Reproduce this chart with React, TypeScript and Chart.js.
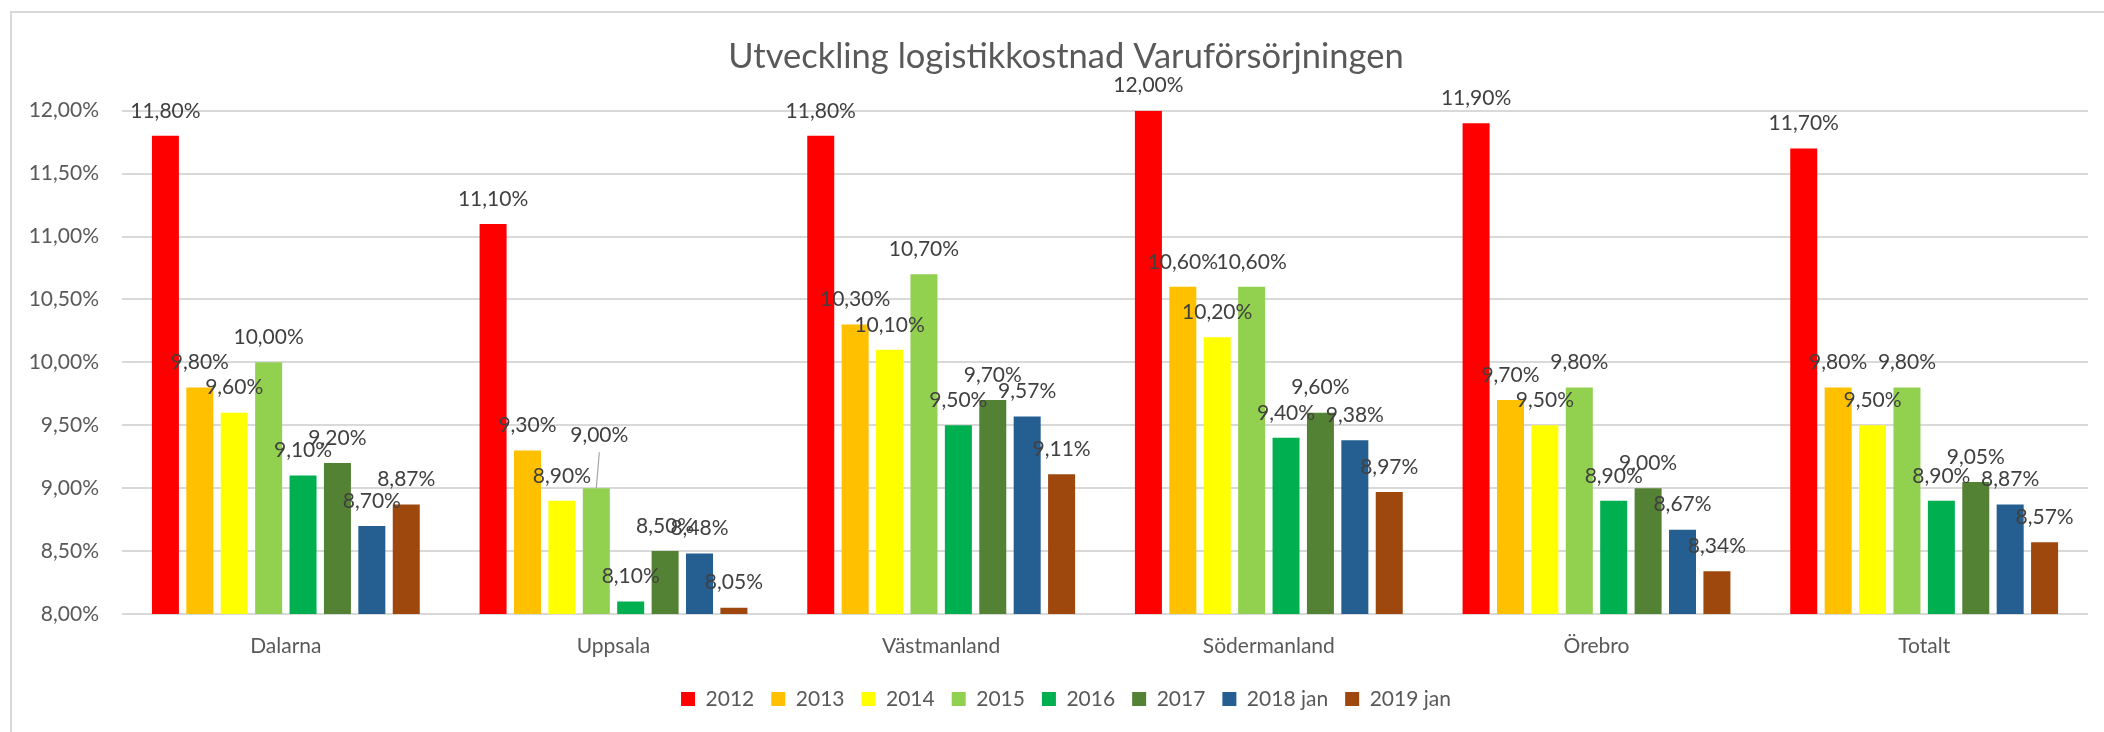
import React, { useEffect, useRef } from 'react';
import { Chart, registerables } from 'chart.js';

Chart.register(...registerables);

// ---- data ----
const TITLE = 'Utveckling logistikkostnad Varuförsörjningen';
const categories = ['Dalarna', 'Uppsala', 'Västmanland', 'Södermanland', 'Örebro', 'Totalt'];
const seriesNames = ['2012', '2013', '2014', '2015', '2016', '2017', '2018 jan', '2019 jan'];
const v2012 = [11.8, 11.1, 11.8, 12.0, 11.9, 11.7];
const v2013 = [9.8, 9.3, 10.3, 10.6, 9.7, 9.8];
const v2014 = [9.6, 8.9, 10.1, 10.2, 9.5, 9.5];
const v2015 = [10.0, 9.0, 10.7, 10.6, 9.8, 9.8];
const v2016 = [9.1, 8.1, 9.5, 9.4, 8.9, 8.9];
const v2017 = [9.2, 8.5, 9.7, 9.6, 9.0, 9.05];
const v2018jan = [8.7, 8.48, 9.57, 9.38, 8.67, 8.87];
const v2019jan = [8.87, 8.05, 9.11, 8.97, 8.34, 8.57];
const seriesValues = [v2012, v2013, v2014, v2015, v2016, v2017, v2018jan, v2019jan];
const yMin = 8;
const yMax = 12;
const yStep = 0.5;

// ---- styles ----
const seriesColors = ['#FF0000', '#FFC000', '#FFFF00', '#92D050', '#00B050', '#548235', '#255E91', '#9E480E'];
const FONT = 'Lato, "Open Sans", sans-serif';
const AXIS_COLOR = '#595959';
const LABEL_COLOR = '#404040';
const GRID_COLOR = '#d9d9d9';
const LABEL_GAP = 25;
// manually moved data label (with leader line) in the original
const LABEL_NUDGES = [{ series: 3, category: 1, dx: 3, dy: -28 }];

const fmtPct = (v: number) => v.toFixed(2).replace('.', ',') + '%';

const valueLabelPlugin = {
  id: 'valueLabels',
  afterDatasetsDraw(chart: any) {
    const ctx = chart.ctx;
    ctx.save();
    ctx.font = `21px ${FONT}`;
    ctx.fillStyle = LABEL_COLOR;
    ctx.textAlign = 'center';
    ctx.textBaseline = 'middle';
    chart.data.datasets.forEach((ds: any, di: number) => {
      const meta = chart.getDatasetMeta(di);
      meta.data.forEach((el: any, i: number) => {
        const n = LABEL_NUDGES.find((q) => q.series === di && q.category === i);
        const x = el.x + (n ? n.dx : 0);
        const y = el.y - LABEL_GAP + (n ? n.dy : 0);
        if (n) {
          ctx.save();
          ctx.strokeStyle = '#a6a6a6';
          ctx.lineWidth = 1.2;
          ctx.beginPath();
          ctx.moveTo(x, y + 17);
          ctx.lineTo(el.x, el.y);
          ctx.stroke();
          ctx.restore();
        }
        ctx.fillText(fmtPct(ds.data[i]), x, y);
      });
    });
    ctx.restore();
  },
};

export default function App() {
  const canvasRef = useRef<HTMLCanvasElement | null>(null);

  useEffect(() => {
    const canvas = canvasRef.current;
    if (!canvas) return;
    const chart = new Chart(canvas, {
      type: 'bar',
      data: {
        labels: categories,
        datasets: seriesNames.map((name, i) => ({
          label: name,
          data: seriesValues[i],
          backgroundColor: seriesColors[i],
          borderWidth: 0,
          categoryPercentage: 0.84,
          barPercentage: 0.785,
        })),
      },
      options: {
        animation: false,
        responsive: false,
        events: [],
        layout: { padding: { top: 0, left: 0, right: 0, bottom: 12.5 } },
        plugins: {
          title: {
            display: true,
            text: TITLE,
            color: AXIS_COLOR,
            font: { family: FONT, size: 34.5, weight: 'normal' },
            padding: { top: 36.3, bottom: 33 },
          },
          legend: {
            position: 'bottom',
            labels: {
              boxWidth: 14,
              boxHeight: 14,
              padding: 17,
              color: AXIS_COLOR,
              font: { family: FONT, size: 21 },
            },
          },
          tooltip: { enabled: false },
        },
        scales: {
          x: {
            grid: { display: false, drawTicks: false },
            border: { display: false },
            ticks: {
              color: AXIS_COLOR,
              font: { family: FONT, size: 21 },
              padding: 19.4,
              maxRotation: 0,
              autoSkip: false,
            },
            afterFit: (s: any) => {
              s.height = 57.5;
            },
          },
          y: {
            min: yMin,
            max: yMax,
            ticks: {
              stepSize: yStep,
              padding: 23,
              color: AXIS_COLOR,
              font: { family: FONT, size: 21 },
              callback: (v: any) => fmtPct(Number(v)),
            },
            grid: { color: GRID_COLOR, lineWidth: 2, drawTicks: false },
            border: { display: false },
            afterFit: (s: any) => {
              s.width = 122;
            },
          },
          yRight: {
            position: 'right',
            display: true,
            grid: { display: false, drawTicks: false },
            border: { display: false },
            ticks: { display: false },
            afterFit: (s: any) => {
              s.width = 44;
            },
          },
        },
      } as any,
      plugins: [valueLabelPlugin],
    });
    return () => chart.destroy();
  }, []);

  return (
    <div
      style={{
        position: 'absolute',
        left: 0,
        top: 0,
        width: 2104,
        height: 732,
        overflow: 'hidden',
        background: '#ffffff',
      }}
    >
      <div
        style={{
          position: 'absolute',
          left: 10,
          top: 11,
          right: 0,
          bottom: 0,
          borderLeft: `2px solid ${GRID_COLOR}`,
          borderTop: `2px solid ${GRID_COLOR}`,
        }}
      />
      <canvas
        ref={canvasRef}
        width={2132}
        height={732}
        style={{ position: 'absolute', left: 0, top: 0, width: 2132, height: 732 }}
      />
    </div>
  );
}
